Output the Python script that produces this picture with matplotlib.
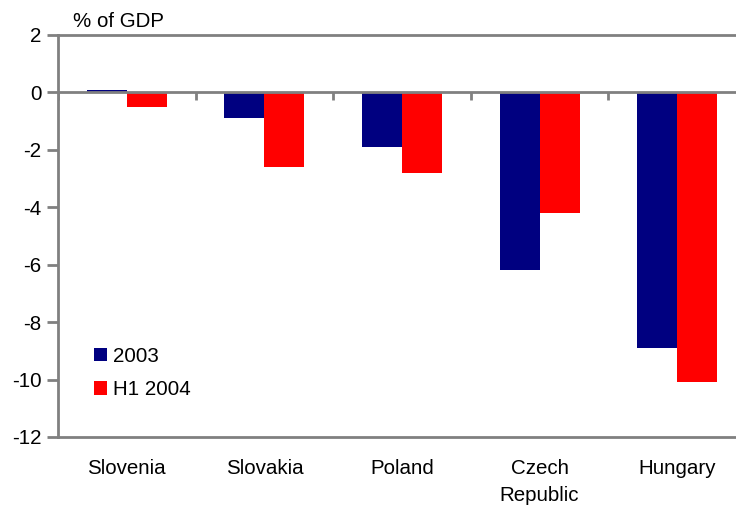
import numpy as np
import matplotlib
matplotlib.use("Agg")
from matplotlib import pyplot as plt

# Current account balance by country
countries = ["Slovenia", "Slovakia", "Poland", "Czech\nRepublic", "Hungary"]
values_2003 = [0.1, -0.9, -1.9, -6.2, -8.9]
values_h1_2004 = [-0.5, -2.6, -2.8, -4.2, -10.1]
series_names = ["2003", "H1 2004"]

plt.rcParams['font.family'] = ['Liberation Sans', 'DejaVu Sans']
plt.rcParams['axes.unicode_minus'] = False
grey = '#808080'
fs = 14.8

fig = plt.figure(figsize=(7.36, 5.09), dpi=100)
ax = fig.add_axes([58 / 736, 1 - 437 / 509, 688 / 736, 402 / 509])

x = np.arange(len(countries))
w = 0.29
ax.bar(x - w / 2, values_2003, w, color='#000080', label=series_names[0])
ax.bar(x + w / 2, values_h1_2004, w, color='#ff0000', label=series_names[1])

ax.set_xlim(-0.5, len(countries) - 0.5)
ax.set_ylim(-12, 2)
ax.set_yticks(range(-12, 3, 2))
ax.set_xticks(x)
ax.set_xticklabels(countries, linespacing=1.55)

# zero line with category separators
ax.axhline(0, color=grey, lw=2, zorder=3)
ax.vlines(np.arange(len(countries) + 1) - 0.5, -0.28, 0, color=grey, lw=2, zorder=3)

for side in ['left', 'bottom', 'top']:
    ax.spines[side].set_color(grey)
    ax.spines[side].set_linewidth(2)
ax.spines['right'].set_visible(False)
ax.tick_params(axis='y', direction='out', length=8, width=2, color=grey,
               pad=4, labelsize=fs)
ax.tick_params(axis='x', length=0, pad=16, labelsize=fs)

ax.legend(loc='upper left', bbox_to_anchor=(0.04, 0.245), frameon=False,
          fontsize=fs, handlelength=0.65, handleheight=0.65,
          handletextpad=0.3, labelspacing=0.7, borderaxespad=0)

fig.text(73 / 736, 1 - 27 / 509, "% of GDP", fontsize=fs, va='baseline')

fig.savefig("out.png", dpi=100)
